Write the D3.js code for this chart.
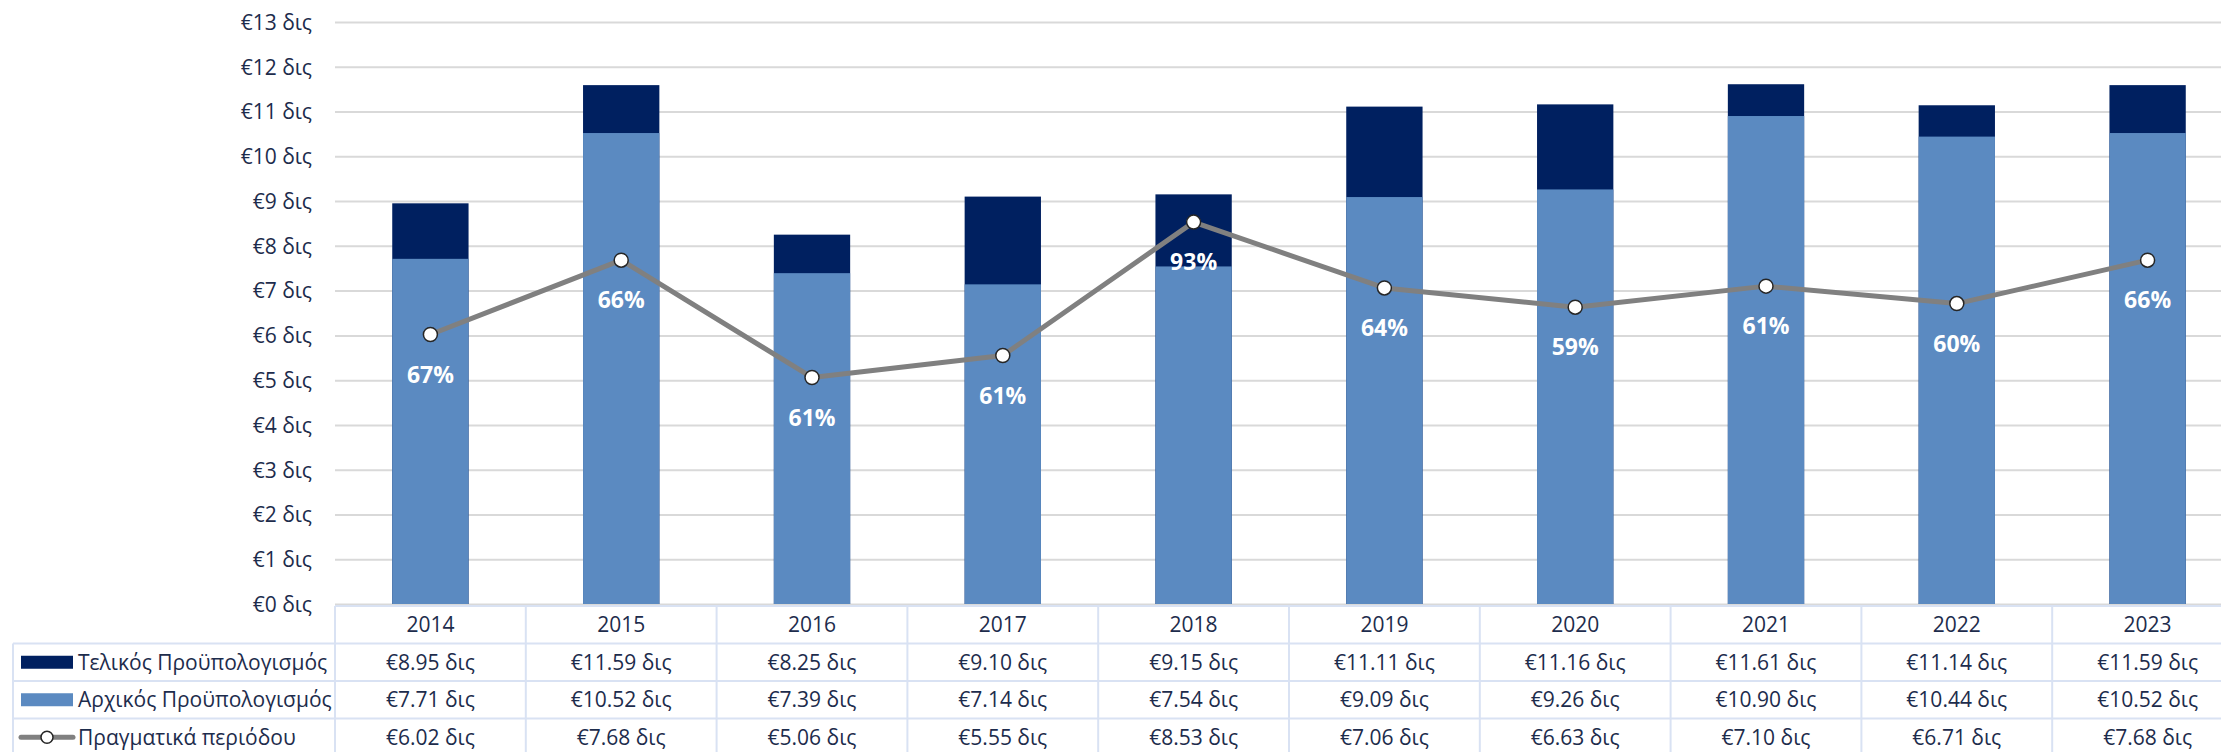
<!DOCTYPE html>
<html>
<head>
<meta charset="utf-8">
<script src="https://cdn.jsdelivr.net/npm/d3@7"></script>
<style>
  html, body { margin: 0; padding: 0; background: #ffffff; overflow: hidden; }
  svg { display: block; font-family: "Open Sans", "Noto Sans", sans-serif; }
</style>
</head>
<body>
<div id="chart"></div>
<script>
// Data
const years = ["2014", "2015", "2016", "2017", "2018", "2019", "2020", "2021", "2022", "2023"];
const finalBudget = [8.95, 11.59, 8.25, 9.10, 9.15, 11.11, 11.16, 11.61, 11.14, 11.59];
const initialBudget = [7.71, 10.52, 7.39, 7.14, 7.54, 9.09, 9.26, 10.90, 10.44, 10.52];
const actualSpend = [6.02, 7.68, 5.06, 5.55, 8.53, 7.06, 6.63, 7.10, 6.71, 7.68];
const shareLabels = ["67%", "66%", "61%", "61%", "93%", "64%", "59%", "61%", "60%", "66%"];
const yTicks = [0, 1, 2, 3, 4, 5, 6, 7, 8, 9, 10, 11, 12, 13];
const seriesNames = ["Τελικός Προϋπολογισμός", "Αρχικός Προϋπολογισμός", "Πραγματικά περιόδου"];

const drawChart = () => {

  /*******************************/
  /*    Declare the constants    */
  /*******************************/
  const width = 2221;
  const height = 752;
  const plotLeft = 335;
  const step = 190.8;
  const plotRight = plotLeft + step * years.length;
  const plotTop = 22;
  const plotBottom = 604;
  const tableTop = 606;
  const rowHeight = 37.5;
  const legendLeft = 13;

  const darkBlue = "#002060";
  const lightBlue = "#5b8ac1";
  const lineGrey = "#808080";
  const textColor = "#1d2c4c";
  const gridColor = "#d9d9d9";
  const tableColor = "#d9e2f3";

  const fmt = d => `€${d.toFixed(2)} δις`;

  /*******************************/
  /*    Append the containers    */
  /*******************************/
  const svg = d3.select("#chart")
    .append("svg")
      .attr("width", width)
      .attr("height", height)
      .attr("viewBox", `0, 0, ${width}, ${height}`);

  // Scales
  const xScale = d3.scaleBand()
    .domain(years)
    .range([plotLeft, plotRight])
    .paddingInner(0.6)
    .paddingOuter(0.3);
  const xCenter = y => xScale(y) + xScale.bandwidth() / 2;

  const yScale = d3.scaleLinear()
    .domain([0, 13])
    .range([plotBottom, plotTop]);

  // Gridlines + y labels
  const yAxis = d3.axisLeft(yScale)
    .tickValues(yTicks)
    .tickSize(-(plotRight - plotLeft))
    .tickPadding(23)
    .tickFormat(d => `€${d} δις`);
  const yAxisGroup = svg.append("g")
    .attr("transform", `translate(${plotLeft}, 0)`)
    .call(yAxis);
  yAxisGroup.select(".domain").remove();
  yAxisGroup.selectAll(".tick line")
    .attr("stroke", gridColor)
    .attr("stroke-width", 2);
  yAxisGroup.selectAll(".tick text")
    .attr("fill", textColor)
    .attr("font-size", 21)
    .attr("font-family", "Open Sans, sans-serif")
    .attr("dy", "0.35em");

  // Final budget bars (behind)
  svg.append("g")
    .selectAll("rect")
    .data(years)
    .join("rect")
      .attr("x", d => xScale(d))
      .attr("y", (d, i) => yScale(finalBudget[i]))
      .attr("width", xScale.bandwidth())
      .attr("height", (d, i) => yScale(0) - yScale(finalBudget[i]))
      .attr("fill", darkBlue);

  // Initial budget bars (front)
  svg.append("g")
    .selectAll("rect")
    .data(years)
    .join("rect")
      .attr("x", d => xScale(d))
      .attr("y", (d, i) => yScale(initialBudget[i]))
      .attr("width", xScale.bandwidth())
      .attr("height", (d, i) => yScale(0) - yScale(initialBudget[i]))
      .attr("fill", lightBlue);

  // Actual spend line
  const line = d3.line()
    .x((d, i) => xCenter(years[i]))
    .y(d => yScale(d));
  svg.append("path")
    .datum(actualSpend)
    .attr("d", line)
    .attr("fill", "none")
    .attr("stroke", lineGrey)
    .attr("stroke-width", 5)
    .attr("stroke-linejoin", "round");

  svg.append("g")
    .selectAll("circle")
    .data(actualSpend)
    .join("circle")
      .attr("cx", (d, i) => xCenter(years[i]))
      .attr("cy", d => yScale(d))
      .attr("r", 7)
      .attr("fill", "#ffffff")
      .attr("stroke", "#262626")
      .attr("stroke-width", 1.5);

  // Percentage labels
  svg.append("g")
    .selectAll("text")
    .data(shareLabels)
    .join("text")
      .text(d => d)
      .attr("x", (d, i) => xCenter(years[i]))
      .attr("y", (d, i) => yScale(actualSpend[i]) + 40)
      .attr("dy", "0.35em")
      .attr("text-anchor", "middle")
      .attr("fill", "#ffffff")
      .attr("font-weight", 700)
      .attr("font-size", 23);

  /*******************************/
  /*        Data table           */
  /*******************************/
  const table = svg.append("g");
  const rows = [finalBudget, initialBudget, actualSpend];
  const tableBottom = tableTop + rowHeight * 4;

  // horizontal lines
  table.append("line")
    .attr("x1", plotLeft).attr("x2", plotRight)
    .attr("y1", tableTop).attr("y2", tableTop);
  d3.range(1, 5).forEach(r => {
    table.append("line")
      .attr("x1", legendLeft).attr("x2", plotRight)
      .attr("y1", tableTop + r * rowHeight).attr("y2", tableTop + r * rowHeight);
  });
  // vertical lines
  table.append("line")
    .attr("x1", legendLeft).attr("x2", legendLeft)
    .attr("y1", tableTop + rowHeight).attr("y2", tableBottom);
  years.forEach(y => {
    table.append("line")
      .attr("x1", xScale(y) - xScale.step() * 0.3).attr("x2", xScale(y) - xScale.step() * 0.3)
      .attr("y1", tableTop).attr("y2", tableBottom);
  });
  table.selectAll("line")
    .attr("stroke", tableColor)
    .attr("stroke-width", 2);

  // header years
  table.append("g")
    .selectAll("text")
    .data(years)
    .join("text")
      .text(d => d)
      .attr("x", d => xCenter(d))
      .attr("y", tableTop + rowHeight / 2)
      .attr("dy", "0.35em")
      .attr("text-anchor", "middle")
      .attr("fill", textColor)
      .attr("font-size", 21);

  // value rows
  rows.forEach((values, r) => {
    const cy = tableTop + rowHeight * (r + 1.5);
    table.append("g")
      .selectAll("text")
      .data(values)
      .join("text")
        .text(d => fmt(d))
        .attr("x", (d, i) => xCenter(years[i]))
        .attr("y", cy)
        .attr("dy", "0.35em")
        .attr("text-anchor", "middle")
        .attr("fill", textColor)
        .attr("font-size", 21);

    table.append("text")
      .text(seriesNames[r])
      .attr("x", 78)
      .attr("y", cy)
      .attr("dy", "0.35em")
      .attr("fill", textColor)
      .attr("font-size", 21);
  });

  // legend keys
  const key1 = tableTop + rowHeight * 1.5;
  const key2 = tableTop + rowHeight * 2.5;
  const key3 = tableTop + rowHeight * 3.5;
  table.append("rect")
    .attr("x", 21).attr("y", key1 - 6.5)
    .attr("width", 52).attr("height", 13)
    .attr("fill", darkBlue);
  table.append("rect")
    .attr("x", 21).attr("y", key2 - 6.5)
    .attr("width", 52).attr("height", 13)
    .attr("fill", lightBlue);
  table.append("line")
    .attr("x1", 21).attr("x2", 73)
    .attr("y1", key3).attr("y2", key3)
    .attr("stroke", lineGrey)
    .attr("stroke-width", 5)
    .attr("stroke-linecap", "round");
  table.append("circle")
    .attr("cx", 47).attr("cy", key3)
    .attr("r", 6)
    .attr("fill", "#ffffff")
    .attr("stroke", "#262626")
    .attr("stroke-width", 1.5);
};

drawChart();
</script>
</body>
</html>
